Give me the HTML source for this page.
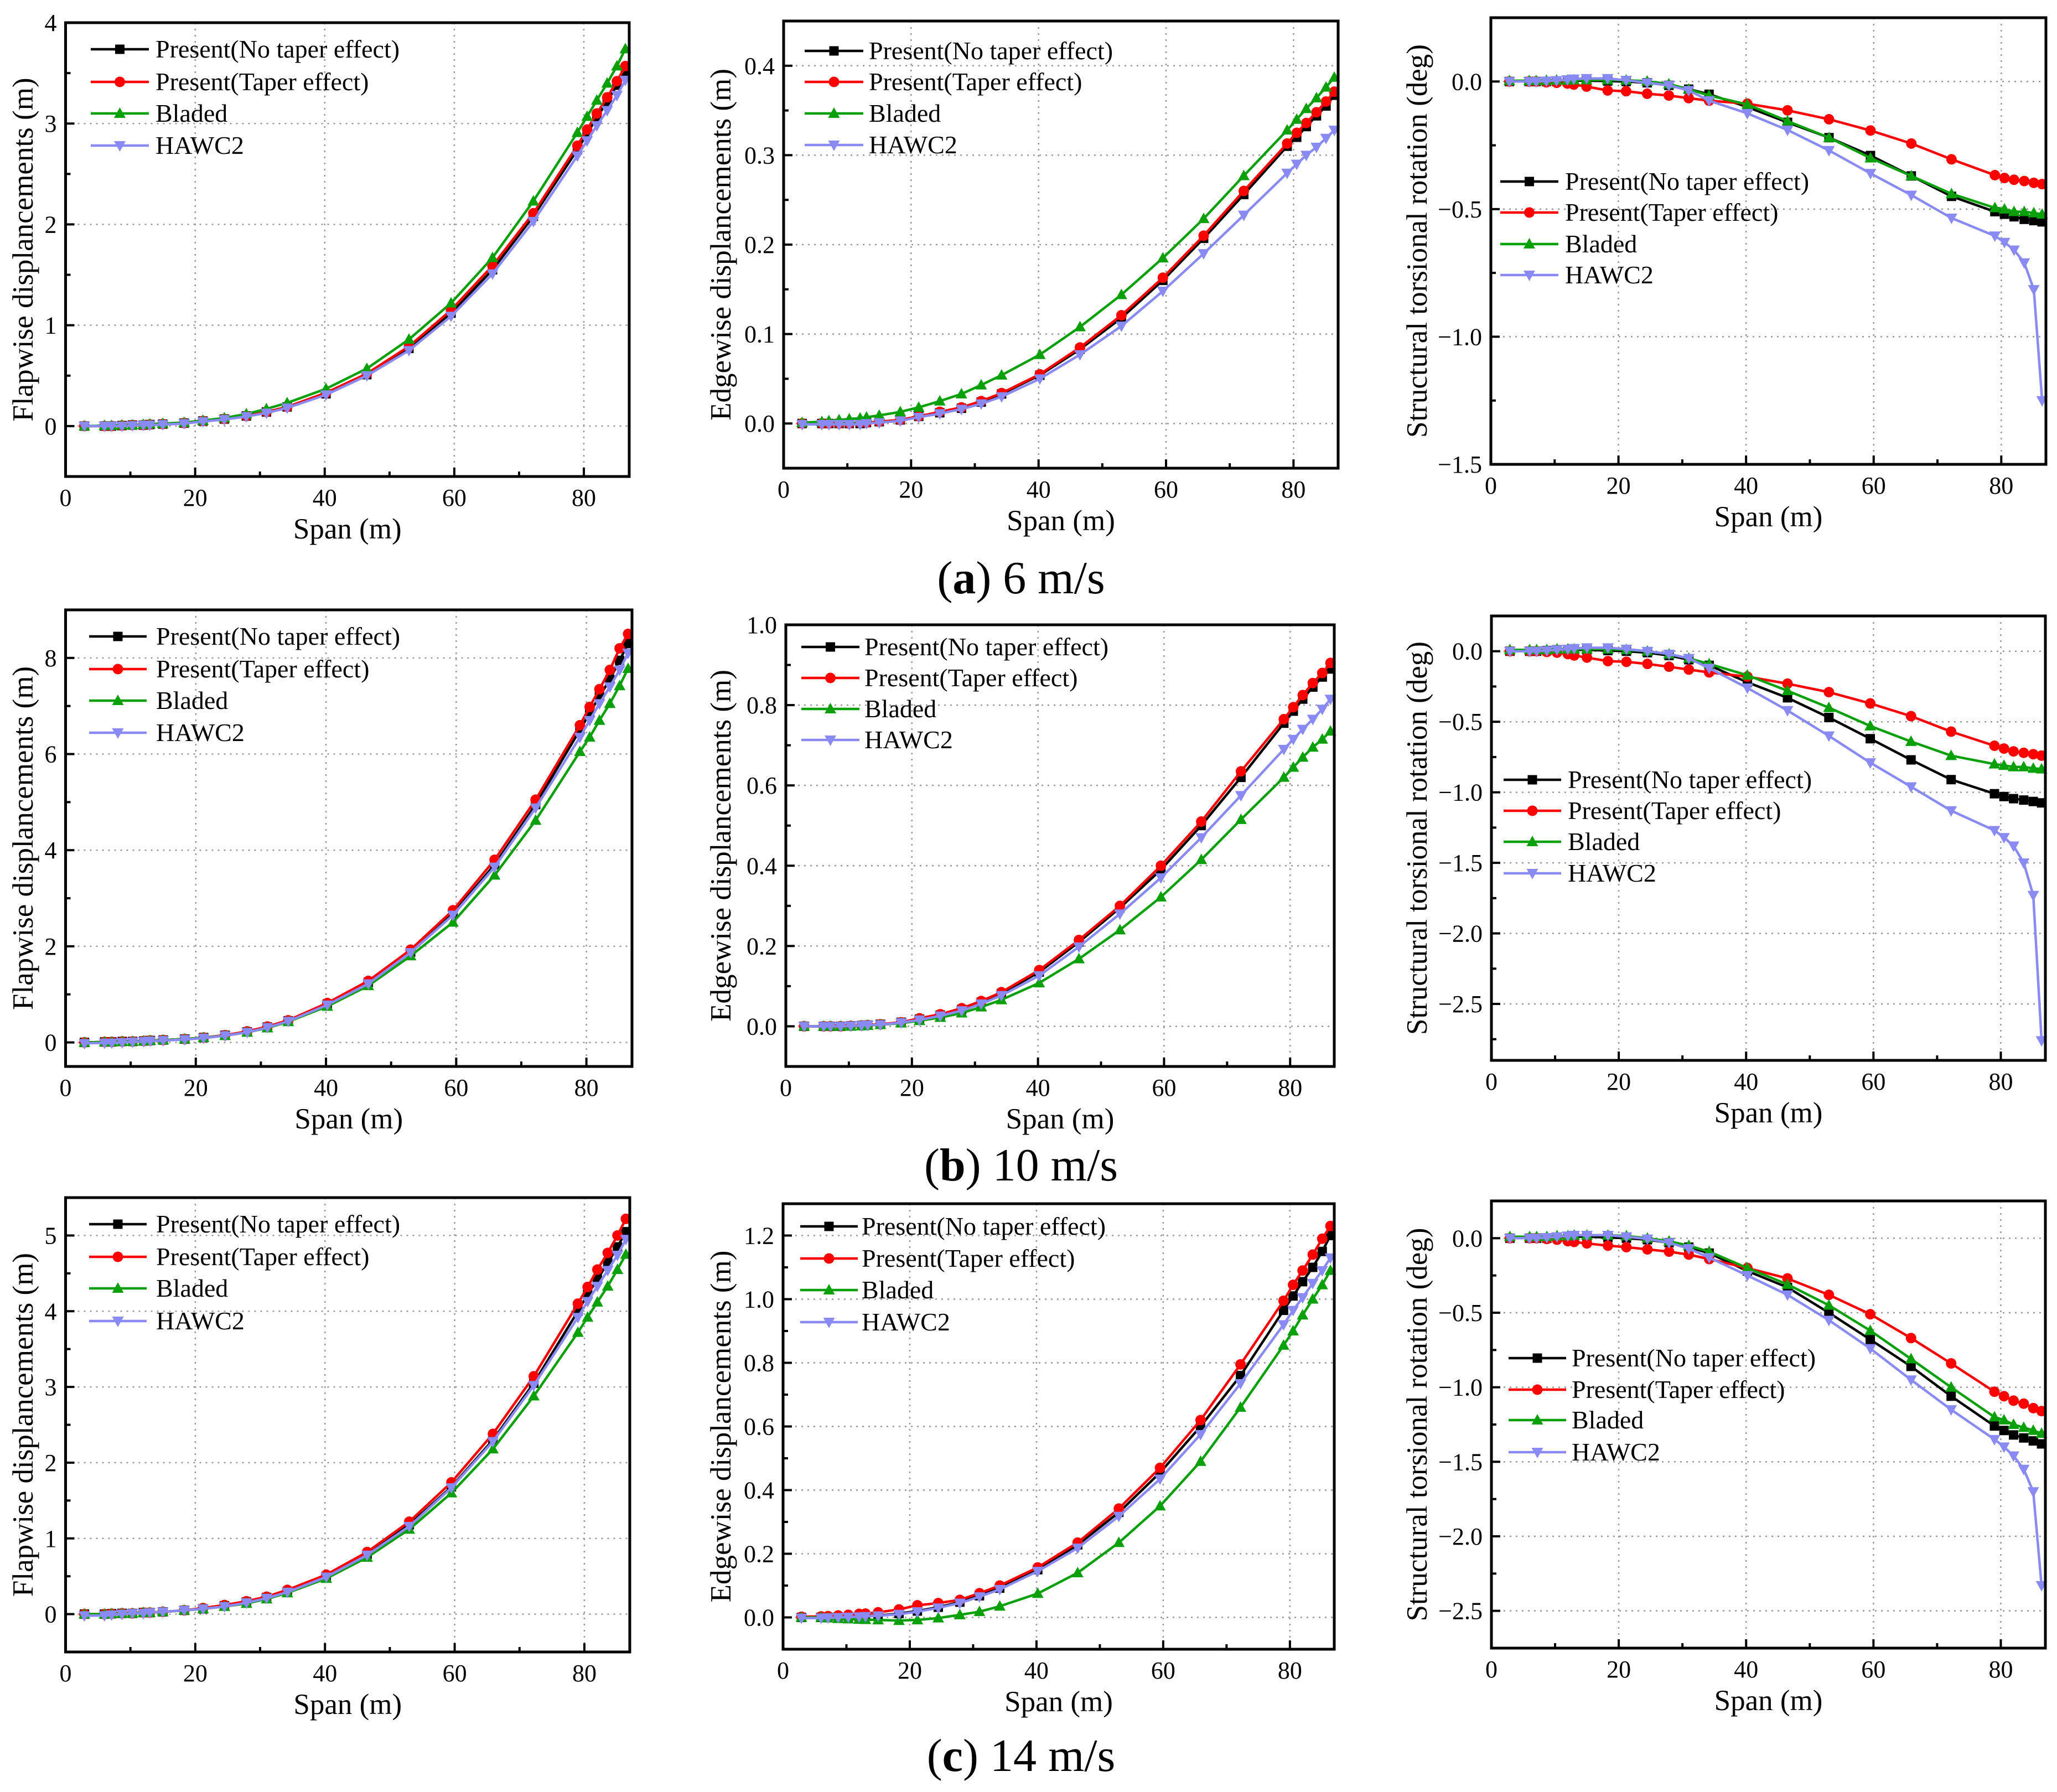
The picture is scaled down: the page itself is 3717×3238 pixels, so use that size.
<!DOCTYPE html>
<html><head><meta charset="utf-8">
<style>
html,body{margin:0;padding:0;background:#fff;}
svg{display:block;font-family:"Liberation Serif",serif;}
svg text{font-family:"Liberation Serif",serif;}
</style></head>
<body>
<svg id="fig" xmlns="http://www.w3.org/2000/svg" width="3717" height="3238" viewBox="0 0 3717 3238" font-family="Liberation Serif, serif">
<rect width="3717" height="3238" fill="#fff"/>
<text x="1845" y="1072" font-size="84" text-anchor="middle">(<tspan font-weight="bold">a</tspan>) 6 m/s</text>
<text x="1845" y="2133" font-size="84" text-anchor="middle">(<tspan font-weight="bold">b</tspan>) 10 m/s</text>
<text x="1845" y="3200" font-size="84" text-anchor="middle">(<tspan font-weight="bold">c</tspan>) 14 m/s</text>
</svg>
<script>
const spans=[2.9,6.0,7.1,8.7,10.3,12.0,13.0,15.0,18.3,21.2,24.5,27.9,31.0,34.2,40.2,46.5,53.0,59.5,65.9,72.2,79.0,80.5,82.0,83.6,85.1,86.4];
const seriesNames=["Present(No taper effect)","Present(Taper effect)","Bladed","HAWC2"];

const a1_black=[0,0,0,0.005,0.01,0.01,0.015,0.02,0.03,0.05,0.07,0.1,0.14,0.19,0.32,0.51,0.77,1.12,1.55,2.08,2.74,2.9,3.06,3.22,3.38,3.52];
const a1_red=[0,0,0,0.005,0.01,0.01,0.015,0.02,0.03,0.05,0.07,0.1,0.14,0.19,0.33,0.52,0.79,1.15,1.59,2.11,2.78,2.94,3.1,3.26,3.42,3.57];
const a1_green=[0,0.005,0.005,0.01,0.01,0.015,0.02,0.025,0.035,0.055,0.08,0.12,0.17,0.23,0.37,0.57,0.86,1.22,1.67,2.23,2.91,3.07,3.23,3.4,3.57,3.74];
const a1_hawc=[0,0,0,0,0.005,0.01,0.01,0.015,0.025,0.045,0.065,0.095,0.13,0.18,0.31,0.5,0.75,1.09,1.51,2.03,2.68,2.83,2.98,3.13,3.28,3.43];

const a2_black=[0,0,0,0,0,0,0.001,0.002,0.004,0.008,0.012,0.017,0.024,0.033,0.054,0.083,0.118,0.16,0.207,0.256,0.31,0.32,0.332,0.344,0.355,0.367];
const a2_red=[0,0,0,0,0,0.001,0.001,0.002,0.004,0.008,0.013,0.018,0.025,0.034,0.055,0.085,0.121,0.163,0.21,0.26,0.313,0.325,0.336,0.348,0.36,0.371];
const a2_green=[0.001,0.002,0.003,0.004,0.005,0.006,0.007,0.009,0.013,0.018,0.025,0.033,0.043,0.054,0.077,0.108,0.144,0.185,0.229,0.277,0.328,0.34,0.352,0.364,0.376,0.387];
const a2_hawc=[-0.001,-0.001,-0.001,-0.001,-0.001,-0.001,0,0.001,0.003,0.007,0.011,0.016,0.022,0.03,0.05,0.077,0.109,0.148,0.19,0.233,0.28,0.29,0.3,0.309,0.319,0.328];

const a3_black=[0,0,0,0,0,0.002,0.003,0.003,0.002,0,-0.005,-0.015,-0.03,-0.05,-0.1,-0.16,-0.22,-0.29,-0.37,-0.45,-0.51,-0.52,-0.53,-0.54,-0.545,-0.55];
const a3_red=[0,0,0,-0.003,-0.005,-0.008,-0.012,-0.02,-0.035,-0.038,-0.048,-0.055,-0.065,-0.075,-0.087,-0.113,-0.148,-0.192,-0.243,-0.305,-0.367,-0.378,-0.385,-0.39,-0.397,-0.402];
const a3_green=[0.003,0.003,0.003,0.004,0.005,0.005,0.006,0.006,0.006,0.005,0.001,-0.01,-0.03,-0.055,-0.09,-0.155,-0.22,-0.3,-0.37,-0.44,-0.495,-0.5,-0.51,-0.51,-0.515,-0.52];
const a3_hawc=[0,0,0,0.002,0.004,0.007,0.01,0.012,0.012,0.005,-0.005,-0.015,-0.035,-0.075,-0.125,-0.19,-0.27,-0.36,-0.445,-0.535,-0.605,-0.63,-0.66,-0.71,-0.815,-1.25];

const b1_black=[0,0.01,0.01,0.02,0.02,0.03,0.04,0.05,0.07,0.1,0.15,0.22,0.32,0.45,0.8,1.25,1.88,2.68,3.7,4.95,6.5,6.85,7.2,7.55,7.95,8.3];
const b1_red=[0,0.01,0.01,0.02,0.02,0.03,0.04,0.05,0.07,0.1,0.15,0.23,0.33,0.46,0.82,1.28,1.93,2.75,3.8,5.05,6.6,6.98,7.35,7.75,8.2,8.5];
const b1_green=[0,0.01,0.01,0.02,0.02,0.03,0.04,0.05,0.07,0.1,0.14,0.21,0.3,0.43,0.75,1.18,1.8,2.5,3.48,4.62,6.05,6.35,6.7,7.05,7.42,7.78];
const b1_hawc=[-0.02,-0.01,-0.01,0,0.01,0.02,0.03,0.04,0.06,0.09,0.14,0.21,0.31,0.44,0.78,1.22,1.87,2.65,3.65,4.88,6.35,6.7,7.05,7.4,7.75,8.1];

const b2_black=[0,0,0,0,0.001,0.002,0.003,0.005,0.01,0.018,0.028,0.042,0.06,0.082,0.135,0.21,0.295,0.39,0.5,0.62,0.755,0.785,0.815,0.845,0.87,0.89];
const b2_red=[0,0,0,0,0.001,0.002,0.003,0.005,0.01,0.02,0.03,0.045,0.063,0.085,0.14,0.215,0.3,0.4,0.51,0.635,0.765,0.795,0.825,0.855,0.88,0.905];
const b2_green=[0,0,0,0,0,0.001,0.002,0.004,0.008,0.014,0.022,0.033,0.048,0.066,0.108,0.168,0.24,0.322,0.415,0.515,0.62,0.645,0.67,0.695,0.715,0.735];
const b2_hawc=[0,0,0,0,0.001,0.002,0.003,0.004,0.009,0.016,0.026,0.039,0.056,0.077,0.126,0.198,0.28,0.37,0.47,0.575,0.69,0.715,0.74,0.765,0.79,0.815];

const b3_black=[0,0,0,0.005,0.01,0.01,0.01,0.01,0.005,0,-0.01,-0.03,-0.06,-0.1,-0.22,-0.33,-0.47,-0.62,-0.77,-0.91,-1.01,-1.03,-1.045,-1.055,-1.065,-1.075];
const b3_red=[0,0,0,-0.005,-0.01,-0.02,-0.03,-0.045,-0.07,-0.075,-0.09,-0.11,-0.13,-0.15,-0.18,-0.23,-0.29,-0.37,-0.46,-0.57,-0.67,-0.69,-0.71,-0.72,-0.73,-0.74];
const b3_green=[0.01,0.01,0.01,0.01,0.015,0.015,0.015,0.015,0.015,0.01,0,-0.02,-0.05,-0.09,-0.17,-0.28,-0.4,-0.53,-0.64,-0.74,-0.8,-0.81,-0.82,-0.82,-0.83,-0.835];
const b3_hawc=[0,0,0,0.005,0.01,0.015,0.02,0.025,0.025,0.015,0,-0.02,-0.05,-0.12,-0.26,-0.42,-0.6,-0.79,-0.96,-1.13,-1.27,-1.32,-1.38,-1.5,-1.73,-2.76];

const c1_black=[0,0,0.005,0.01,0.01,0.02,0.02,0.03,0.05,0.07,0.11,0.16,0.22,0.3,0.5,0.79,1.18,1.68,2.3,3.05,4.0,4.22,4.42,4.64,4.85,5.05];
const c1_red=[0,0,0.005,0.01,0.01,0.02,0.02,0.03,0.05,0.08,0.12,0.17,0.23,0.32,0.52,0.82,1.22,1.74,2.38,3.14,4.1,4.32,4.55,4.77,5.0,5.22];
const c1_green=[0,0,0.005,0.01,0.01,0.02,0.02,0.03,0.05,0.07,0.1,0.14,0.2,0.28,0.47,0.75,1.12,1.6,2.18,2.88,3.72,3.92,4.12,4.33,4.55,4.75];
const c1_hawc=[-0.02,-0.02,-0.01,0,0.01,0.01,0.02,0.03,0.05,0.07,0.1,0.15,0.21,0.29,0.49,0.78,1.16,1.67,2.28,3.02,3.92,4.13,4.33,4.54,4.74,4.95];

const c2_black=[0,0,0,0.001,0.002,0.003,0.004,0.006,0.012,0.02,0.032,0.048,0.068,0.092,0.15,0.228,0.33,0.455,0.6,0.76,0.965,1.01,1.055,1.1,1.15,1.2];
const c2_red=[0.002,0.003,0.004,0.006,0.008,0.011,0.012,0.016,0.025,0.038,0.045,0.055,0.076,0.1,0.157,0.235,0.342,0.47,0.62,0.795,0.995,1.045,1.09,1.14,1.19,1.23];
const c2_green=[0,0,-0.002,-0.004,-0.005,-0.006,-0.007,-0.008,-0.01,-0.008,-0.002,0.008,0.018,0.035,0.075,0.14,0.235,0.35,0.49,0.66,0.855,0.9,0.95,1.0,1.045,1.09];
const c2_hawc=[-0.002,-0.002,-0.001,0,0.001,0.002,0.003,0.005,0.01,0.018,0.03,0.045,0.065,0.088,0.145,0.218,0.318,0.435,0.575,0.735,0.92,0.965,1.005,1.05,1.09,1.13];

const c3_black=[0,0,0,0,0.005,0.01,0.01,0.01,0.005,0,-0.01,-0.03,-0.06,-0.1,-0.22,-0.33,-0.5,-0.68,-0.86,-1.06,-1.26,-1.29,-1.32,-1.34,-1.36,-1.38];
const c3_red=[0,0,0,-0.005,-0.01,-0.02,-0.025,-0.035,-0.05,-0.06,-0.075,-0.09,-0.11,-0.14,-0.2,-0.27,-0.38,-0.51,-0.67,-0.84,-1.03,-1.06,-1.09,-1.11,-1.14,-1.16];
const c3_green=[0.01,0.01,0.01,0.01,0.015,0.015,0.02,0.02,0.02,0.015,0,-0.02,-0.05,-0.09,-0.2,-0.31,-0.45,-0.62,-0.81,-1.0,-1.2,-1.22,-1.25,-1.27,-1.29,-1.31];
const c3_hawc=[0,0,0,0.005,0.01,0.015,0.02,0.02,0.02,0.01,-0.005,-0.03,-0.07,-0.13,-0.25,-0.38,-0.55,-0.74,-0.95,-1.15,-1.35,-1.4,-1.46,-1.55,-1.7,-2.33];

const xTicks=[0,20,40,60,80];
const xMinor=[10,30,50,70];
const ticksFlapA=[0,1,2,3,4];
const ticksEdgeA=[0.0,0.1,0.2,0.3,0.4];
const ticksTors=[0.0,-0.5,-1.0,-1.5,-2.0,-2.5];
const ticksFlapB=[0,2,4,6,8];
const ticksEdgeB=[0.0,0.2,0.4,0.6,0.8,1.0];
const ticksFlapC=[0,1,2,3,4,5];
const ticksEdgeC=[0.0,0.2,0.4,0.6,0.8,1.0,1.2];

const COLORS=["#000000","#ff0000","#0aa00a","#8a8af5"];
const MARKERS=["square","circle","up","down"];
const NS="http://www.w3.org/2000/svg";
const svg=document.getElementById('fig');

const panels=[
 {id:'a1',L:118.5,R:1137,T:41,B:861,ymin:-0.5,ymax:4,yt:ticksFlapA,dec:0,minorStep:0.5,title:'Flapwise displancements (m)',tx:42,series:[a1_black,a1_red,a1_green,a1_hawc],lg:{x1:164,x2:269,tx:281,ys:[89,148,205,263]}},
 {id:'a2',L:1416,R:2418,T:38,B:846,ymin:-0.05,ymax:0.45,yt:ticksEdgeA,dec:1,minorStep:0.05,title:'Edgewise displancements (m)',tx:1303,series:[a2_black,a2_red,a2_green,a2_hawc],lg:{x1:1454,x2:1560,tx:1570,ys:[92,148,205,262]}},
 {id:'a3',L:2694,R:3697,T:32,B:839,ymin:-1.5,ymax:0.25,yt:ticksTors.slice(0,4),dec:1,minorStep:0.25,title:'Structural torsional rotation (deg)',tx:2561,series:[a3_black,a3_red,a3_green,a3_hawc],lg:{x1:2711,x2:2816,tx:2828,ys:[328,384,441,497]}},
 {id:'b1',L:118.5,R:1142,T:1102,B:1927,ymin:-0.5,ymax:9,yt:ticksFlapB,dec:0,minorStep:1,title:'Flapwise displancements (m)',tx:42,series:[b1_black,b1_red,b1_green,b1_hawc],lg:{x1:161,x2:265,tx:282,ys:[1150,1209,1266,1324]}},
 {id:'b2',L:1420,R:2411,T:1129,B:1927,ymin:-0.1,ymax:1.0,yt:ticksEdgeB,dec:1,minorStep:0.1,title:'Edgewise displancements (m)',tx:1303,series:[b2_black,b2_red,b2_green,b2_hawc],lg:{x1:1448,x2:1553,tx:1562,ys:[1169,1225,1281,1337]}},
 {id:'b3',L:2695,R:3696,T:1113,B:1916,ymin:-2.9,ymax:0.25,yt:ticksTors,dec:1,minorStep:0.25,title:'Structural torsional rotation (deg)',tx:2561,series:[b3_black,b3_red,b3_green,b3_hawc],lg:{x1:2717,x2:2821,tx:2833,ys:[1409,1465,1521,1578]}},
 {id:'c1',L:118.5,R:1138,T:2164,B:2985,ymin:-0.5,ymax:5.5,yt:ticksFlapC,dec:0,minorStep:0.5,title:'Flapwise displancements (m)',tx:42,series:[c1_black,c1_red,c1_green,c1_hawc],lg:{x1:161,x2:265,tx:282,ys:[2212,2271,2328,2387]}},
 {id:'c2',L:1415,R:2411,T:2175,B:2980,ymin:-0.1,ymax:1.3,yt:ticksEdgeC,dec:1,minorStep:0.1,title:'Edgewise displancements (m)',tx:1303,series:[c2_black,c2_red,c2_green,c2_hawc],lg:{x1:1446,x2:1550,tx:1557,ys:[2216,2274,2331,2389]}},
 {id:'c3',L:2695,R:3696,T:2170,B:2978,ymin:-2.75,ymax:0.25,yt:ticksTors,dec:1,minorStep:0.25,title:'Structural torsional rotation (deg)',tx:2561,series:[c3_black,c3_red,c3_green,c3_hawc],lg:{x1:2726,x2:2830,tx:2840,ys:[2454,2511,2566,2624]}}
];
const XMAX=87.0;

function mk(tag,attrs,parent){const e=document.createElementNS(NS,tag);for(const k in attrs)e.setAttribute(k,attrs[k]);(parent||svg).appendChild(e);return e;}
function fmt(v,d){let s=v.toFixed(d);if(v<0)s='\u2212'+s.slice(1);return s;}
function marker(g,type,x,y,color){
  let e;const s=8.5;
  if(type==='square')e=mk('rect',{x:x-s,y:y-s,width:2*s,height:2*s,fill:color},g);
  else if(type==='circle')e=mk('circle',{cx:x,cy:y,r:9.5,fill:color},g);
  else if(type==='up')e=mk('polygon',{points:`${x},${y-11} ${x-10.5},${y+8} ${x+10.5},${y+8}`,fill:color},g);
  else e=mk('polygon',{points:`${x},${y+11} ${x-10.5},${y-8} ${x+10.5},${y-8}`,fill:color},g);
  return e;
}

panels.forEach(p=>{
  const g=mk('g',{});
  
  
  const sx=v=>p.L+(v/XMAX)*(p.R-p.L);
  const sy=v=>p.B-(v-p.ymin)/(p.ymax-p.ymin)*(p.B-p.T);
  xTicks.slice(1).forEach(t=>{const l=mk('line',{x1:sx(t),x2:sx(t),y1:p.T,y2:p.B,stroke:'#999',"stroke-width":2.5,"stroke-dasharray":"3 8"},g);});
  p.yt.forEach(t=>{const l=mk('line',{x1:p.L,x2:p.R,y1:sy(t),y2:sy(t),stroke:'#999',"stroke-width":2.5,"stroke-dasharray":"3 8"},g);});
  p.series.forEach((vals,si)=>{
    const sg=mk('g',{},g);
    
    
    const pts=vals.map((v,i)=>sx(spans[i]).toFixed(1)+','+sy(v).toFixed(1)).join(' ');
    const pl=mk('polyline',{points:pts,fill:'none',stroke:COLORS[si],"stroke-width":4.5,"stroke-linejoin":"round"},sg);
    
    
    vals.forEach((v,i)=>{const m=marker(sg,MARKERS[si],sx(spans[i]),sy(v),COLORS[si]);
      
      });
  });
  const fr=mk('rect',{x:p.L,y:p.T,width:p.R-p.L,height:p.B-p.T,fill:'none',stroke:'#000',"stroke-width":5},g);
  
  
  xTicks.forEach(t=>{mk('line',{x1:sx(t),x2:sx(t),y1:p.B,y2:p.B-16,stroke:'#000',"stroke-width":4},g);
    const tx=mk('text',{x:sx(t),y:p.B+53,"font-size":44,"text-anchor":"middle"},g);tx.textContent=t;
    });
  xMinor.forEach(t=>mk('line',{x1:sx(t),x2:sx(t),y1:p.B,y2:p.B-9,stroke:'#000',"stroke-width":4},g));
  for(let v=p.ymin;v<=p.ymax+1e-9;v+=p.minorStep){
    const r=Math.round(v/p.minorStep)*p.minorStep;
    if(r<p.ymin-1e-9||r>p.ymax+1e-9)continue;
    const major=p.yt.some(t=>Math.abs(t-r)<1e-6);
    mk('line',{x1:p.L,x2:p.L+(major?16:9),y1:sy(r),y2:sy(r),stroke:'#000',"stroke-width":4},g);
  }
  p.yt.forEach(t=>{const tx=mk('text',{x:p.L-16,y:sy(t)+15,"font-size":44,"text-anchor":"end"},g);tx.textContent=fmt(t,p.dec);
    });
  const xt=mk('text',{x:(p.L+p.R)/2,y:p.B+112,"font-size":53,"text-anchor":"middle"},g);xt.textContent='Span (m)';
  
  const cy=(p.T+p.B)/2;
  const yt=mk('text',{x:p.tx,y:cy,"font-size":53,"text-anchor":"middle",transform:`rotate(-90 ${p.tx} ${cy})`,"dominant-baseline":"central"},g);yt.textContent=p.title;
  
  const lg=mk('g',{},g);
  
  
  seriesNames.forEach((n,i)=>{
    const y=p.lg.ys[i];
    const e=mk('g',{},lg);
    
    
    mk('line',{x1:p.lg.x1,x2:p.lg.x2,y1:y,y2:y,stroke:COLORS[i],"stroke-width":4.5},e);
    marker(e,MARKERS[i],(p.lg.x1+p.lg.x2)/2,y,COLORS[i]);
    const t=mk('text',{x:p.lg.tx,y:y+15,"font-size":46},e);t.textContent=n;
  });
});
</script>
</body></html>
